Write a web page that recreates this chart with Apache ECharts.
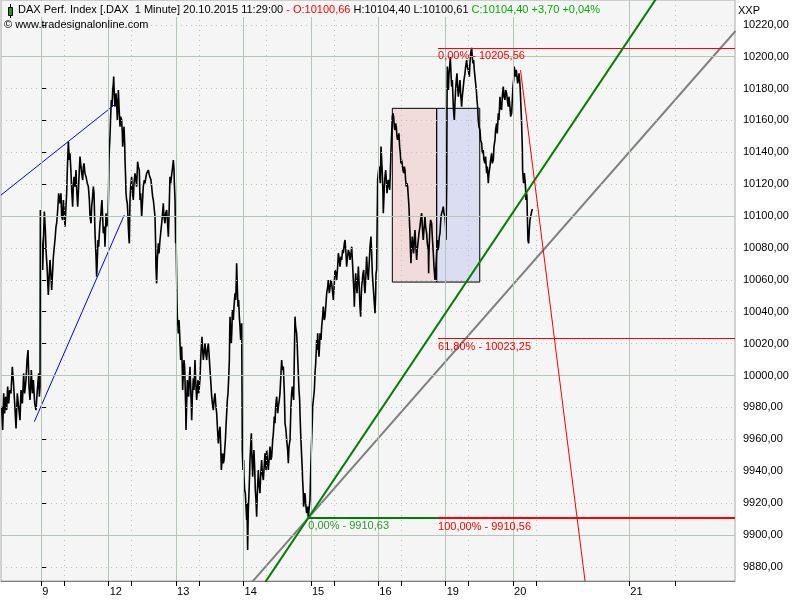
<!DOCTYPE html>
<html><head><meta charset="utf-8">
<script src="https://cdn.jsdelivr.net/npm/echarts@6/dist/echarts.min.js"></script>
<style>html,body{margin:0;padding:0;background:#fff}#c{width:800px;height:600px}</style>
</head><body><div id="c"></div><script>
// x = trading-day position (0 = start of 9 Oct session, 1 = 12 Oct, ...), y = DAX price
const dax1m = [
[-0.588,9980.4],[-0.573,9965.8],[-0.558,9988.8],[-0.544,9976.2],[-0.529,9986.7],[-0.514,9978.3],[-0.499,9993.0],[-0.484,9982.5],[-0.469,9990.9],[-0.450,9988.8],[-0.430,10005.5],[-0.415,9997.1],[-0.395,9982.5],[-0.375,9966.8],[-0.356,9988.8],[-0.336,9980.4],[-0.316,9972.0],[-0.301,9990.9],[-0.281,9982.5],[-0.262,10001.3],[-0.247,9988.8],[-0.227,9997.1],[-0.212,10009.7],[-0.197,10016.0],[-0.183,9993.0],[-0.168,9984.6],[-0.148,10003.4],[-0.133,9988.8],[-0.118,9997.1],[-0.098,9982.5],[-0.079,9978.3],[-0.059,9990.9],[-0.039,10001.3],[-0.029,9986.7],[-0.019,9993.0],
[-0.014,10103.8],[-0.004,10089.2],[0.005,10083.9],[0.020,10066.2],[0.035,10089.2],[0.045,10102.8],[0.060,10091.3],[0.070,10078.7],[0.085,10068.3],[0.104,10050.5],[0.119,10064.1],[0.129,10072.5],[0.144,10062.0],[0.154,10053.6],[0.169,10066.2],[0.179,10074.5],[0.193,10080.8],[0.203,10085.0],[0.218,10093.4],[0.228,10095.5],[0.243,10103.8],[0.258,10114.3],[0.277,10108.0],[0.292,10114.3],[0.302,10099.6],[0.317,10097.5],[0.327,10110.1],[0.342,10101.7],[0.352,10093.4],[0.366,10105.9],[0.376,10114.3],[0.386,10128.9],[0.401,10146.7],[0.416,10135.2],[0.426,10139.4],[0.441,10126.8],[0.451,10116.4],[0.465,10105.9],[0.475,10118.5],[0.485,10124.7],[0.500,10118.5],[0.515,10128.9],[0.525,10116.4],[0.540,10105.9],[0.549,10114.3],[0.564,10128.9],[0.574,10137.3],[0.584,10138.3],[0.599,10126.8],[0.614,10122.6],[0.624,10131.0],[0.634,10133.1],[0.648,10126.8],[0.663,10124.7],[0.683,10120.5],[0.698,10118.5],[0.713,10110.1],[0.723,10099.6],[0.738,10095.5],[0.747,10105.9],[0.757,10110.1],[0.772,10118.5],[0.782,10114.3],[0.797,10089.2],[0.812,10074.5],[0.821,10062.0],[0.831,10072.5],[0.841,10085.0],[0.851,10080.8],[0.861,10089.2],[0.871,10095.5],[0.881,10099.6],[0.891,10105.9],[0.900,10110.1],[0.910,10099.6],[0.920,10089.2],[0.935,10093.4],[0.945,10080.8],[0.955,10093.4],[0.960,10101.7],[0.970,10093.4],[0.980,10095.5],[0.989,10097.5],
[0.999,10118.5],[1.004,10135.2],[1.009,10141.5],[1.019,10149.8],[1.029,10162.4],[1.039,10172.8],[1.049,10168.6],[1.059,10179.1],[1.069,10183.3],[1.074,10187.5],[1.084,10174.9],[1.093,10168.6],[1.103,10172.8],[1.108,10177.0],[1.118,10170.7],[1.128,10160.3],[1.138,10170.7],[1.143,10179.1],[1.153,10168.6],[1.168,10156.1],[1.177,10162.4],[1.192,10160.3],[1.202,10151.9],[1.207,10143.5],[1.217,10149.8],[1.227,10156.1],[1.237,10145.6],[1.242,10135.2],[1.252,10122.6],[1.257,10114.3],[1.266,10110.1],[1.276,10108.0],[1.286,10099.6],[1.291,10093.4],[1.301,10085.0],[1.306,10082.9],[1.311,10097.5],[1.316,10110.1],[1.326,10118.5],[1.340,10124.7],[1.350,10116.4],[1.365,10110.1],[1.375,10120.5],[1.390,10126.8],[1.404,10122.6],[1.414,10118.5],[1.429,10134.1],[1.439,10131.0],[1.454,10128.9],[1.464,10110.1],[1.474,10114.3],[1.489,10099.6],[1.503,10110.1],[1.513,10118.5],[1.528,10122.6],[1.538,10120.5],[1.553,10124.7],[1.563,10126.8],[1.578,10125.8],[1.588,10128.9],[1.602,10125.8],[1.612,10126.8],[1.627,10122.6],[1.637,10118.5],[1.652,10112.2],[1.662,10110.1],[1.677,10103.8],[1.687,10099.6],[1.697,10080.8],[1.701,10068.3],[1.711,10057.8],[1.721,10072.5],[1.736,10082.9],[1.746,10076.6],[1.761,10085.0],[1.776,10091.3],[1.786,10095.5],[1.795,10099.6],[1.810,10108.0],[1.820,10099.6],[1.835,10095.5],[1.845,10101.7],[1.860,10103.8],[1.870,10097.5],[1.885,10087.1],[1.894,10099.6],[1.909,10124.7],[1.919,10120.5],[1.934,10125.8],[1.949,10131.0],[1.959,10135.2],[1.969,10128.9],[1.974,10120.5],[1.984,10110.1],[1.993,10082.9],
[1.998,10093.4],[2.003,10076.6],[2.008,10062.0],[2.013,10047.4],[2.018,10036.9],[2.028,10030.6],[2.033,10026.4],[2.043,10034.8],[2.048,10030.6],[2.058,10020.1],[2.068,10009.7],[2.077,10013.9],[2.082,10018.1],[2.092,10003.4],[2.097,9990.9],[2.107,10001.3],[2.117,10009.7],[2.127,10005.5],[2.132,9997.1],[2.142,9980.4],[2.147,9965.8],[2.157,9982.5],[2.167,9997.1],[2.177,9990.9],[2.186,9986.7],[2.196,9998.2],[2.206,10005.5],[2.216,9993.0],[2.226,9980.4],[2.231,9972.0],[2.241,9986.7],[2.256,9998.2],[2.266,9990.9],[2.280,10009.7],[2.290,9997.1],[2.305,9984.6],[2.315,9990.9],[2.325,9997.1],[2.335,9988.8],[2.345,9993.0],[2.355,9998.2],[2.364,10009.7],[2.374,10018.1],[2.384,10024.3],[2.394,10016.0],[2.404,10009.7],[2.414,10013.9],[2.429,10020.1],[2.439,10013.9],[2.454,10009.7],[2.463,10016.0],[2.478,10020.1],[2.488,10013.9],[2.503,10003.4],[2.513,9997.1],[2.528,9986.7],[2.538,9982.5],[2.553,9978.3],[2.563,9984.6],[2.577,9988.8],[2.587,9982.5],[2.602,9976.2],[2.612,9967.9],[2.627,9957.4],[2.637,9963.7],[2.652,9967.9],[2.662,9955.3],[2.671,9940.7],[2.681,9947.0],[2.691,9951.1],[2.701,9944.9],[2.711,9947.0],[2.721,9953.2],[2.731,9959.5],[2.740,9967.9],[2.750,9976.2],[2.760,9984.6],[2.770,9988.8],[2.780,9998.2],[2.790,10009.7],[2.795,10026.4],[2.800,10036.9],[2.810,10026.4],[2.819,10020.1],[2.829,10030.6],[2.834,10041.1],[2.844,10036.9],[2.849,10034.8],[2.859,10043.2],[2.874,10051.5],[2.884,10047.4],[2.893,10059.9],[2.898,10070.4],[2.908,10055.7],[2.918,10043.2],[2.928,10047.4],[2.938,10036.9],[2.948,10030.6],[2.958,10022.3],[2.968,10030.6],[2.973,10032.7],
[2.982,9953.2],[2.992,9940.7],[3.002,9947.0],[3.007,9936.5],[3.017,9928.2],[3.027,9926.1],[3.037,9917.7],[3.047,9909.3],[3.052,9919.8],[3.061,9890.5],[3.071,9915.6],[3.081,9926.1],[3.091,9938.6],[3.096,9947.0],[3.106,9955.3],[3.116,9963.7],[3.126,9947.0],[3.136,9936.5],[3.145,9947.0],[3.155,9953.2],[3.165,9942.8],[3.175,9928.2],[3.185,9921.9],[3.195,9911.4],[3.205,9926.1],[3.220,9940.7],[3.229,9932.3],[3.244,9926.1],[3.254,9936.5],[3.269,9947.0],[3.279,9938.6],[3.294,9934.4],[3.319,9951.2],[3.334,9940.7],[3.344,9953.3],[3.358,9944.9],[3.368,9940.7],[3.383,9949.1],[3.393,9955.4],[3.408,9947.0],[3.418,9949.1],[3.433,9959.6],[3.443,9963.7],[3.457,9974.2],[3.467,9970.0],[3.477,9980.5],[3.492,9986.7],[3.507,9976.3],[3.517,9980.5],[3.531,9984.6],[3.541,9988.8],[3.556,10001.4],[3.566,10009.7],[3.576,10003.5],[3.591,10005.6],[3.606,9988.8],[3.616,9970.0],[3.630,9965.8],[3.640,9959.6],[3.655,9953.3],[3.665,9944.9],[3.675,9955.4],[3.690,9959.6],[3.704,9980.5],[3.714,9988.8],[3.724,9993.0],[3.734,9988.8],[3.744,9984.6],[3.754,10011.8],[3.764,10036.9],[3.773,10030.7],[3.788,10026.5],[3.798,10018.1],[3.803,10011.8],[3.813,10001.4],[3.823,9990.9],[3.833,9984.6],[3.838,9976.3],[3.848,9963.7],[3.863,9949.1],[3.872,9940.7],[3.877,9934.5],[3.887,9926.1],[3.892,9917.7],[3.902,9924.0],[3.912,9926.1],[3.922,9919.8],[3.937,9913.6],[3.951,9917.7],[3.961,9910.63],[3.976,9917.7],[3.986,9921.9],
[3.996,9938.6],[4.006,9953.3],[4.011,9959.6],[4.021,9972.1],[4.026,9980.5],[4.036,9984.6],[4.051,9990.9],[4.061,10001.4],[4.071,10007.7],[4.080,10016.0],[4.085,10022.3],[4.095,10016.0],[4.100,10026.5],[4.110,10018.1],[4.120,10011.8],[4.130,10020.2],[4.135,10026.5],[4.150,10022.3],[4.160,10030.7],[4.174,10036.9],[4.184,10043.2],[4.199,10034.8],[4.209,10036.9],[4.224,10045.3],[4.234,10051.6],[4.249,10055.8],[4.258,10059.9],[4.273,10051.6],[4.283,10051.6],[4.298,10059.9],[4.308,10057.8],[4.323,10051.6],[4.333,10047.4],[4.347,10057.8],[4.357,10066.2],[4.372,10064.1],[4.382,10059.9],[4.397,10068.3],[4.407,10076.7],[4.422,10072.5],[4.432,10068.3],[4.446,10074.6],[4.456,10072.5],[4.471,10078.8],[4.481,10076.7],[4.496,10082.9],[4.506,10085.0],[4.520,10076.7],[4.530,10068.3],[4.545,10074.6],[4.555,10078.8],[4.570,10076.7],[4.580,10072.5],[4.595,10076.7],[4.605,10080.8],[4.620,10068.3],[4.629,10059.9],[4.639,10051.6],[4.644,10043.2],[4.654,10055.8],[4.664,10064.1],[4.674,10057.8],[4.684,10051.6],[4.694,10059.9],[4.704,10068.3],[4.713,10059.9],[4.728,10043.2],[4.738,10036.9],[4.743,10045.3],[4.753,10055.8],[4.763,10059.9],[4.773,10064.1],[4.783,10066.2],[4.793,10055.8],[4.802,10051.6],[4.812,10059.9],[4.827,10074.6],[4.837,10066.2],[4.852,10059.9],[4.862,10068.3],[4.877,10080.8],[4.886,10085.0],[4.891,10087.1],[4.901,10076.7],[4.911,10064.1],[4.921,10057.8],[4.931,10051.6],[4.941,10045.3],[4.951,10039.0],[4.961,10051.6],[4.966,10064.1],[4.975,10066.2],[4.980,10066.2],
[4.990,10122.7],[5.000,10126.9],[5.010,10131.0],[5.020,10124.8],[5.030,10120.6],[5.040,10143.6],[5.050,10135.2],[5.059,10126.9],[5.069,10114.3],[5.074,10101.8],[5.084,10112.2],[5.089,10118.5],[5.099,10124.8],[5.109,10128.9],[5.119,10122.7],[5.129,10114.3],[5.138,10120.6],[5.148,10122.7],[5.158,10118.5],[5.168,10116.4],[5.178,10126.9],[5.188,10141.5],[5.198,10151.9],[5.208,10162.4],[5.217,10164.5],[5.227,10162.4],[5.237,10156.1],[5.247,10154.0],[5.257,10158.2],[5.267,10156.1],[5.277,10149.9],[5.287,10147.8],[5.297,10149.9],[5.306,10151.9],[5.316,10143.6],[5.326,10139.4],[5.336,10133.1],[5.346,10135.2],[5.356,10134.2],[5.366,10128.9],[5.376,10126.9],[5.386,10131.0],[5.396,10128.9],[5.405,10122.7],[5.415,10118.5],[5.425,10120.6],[5.435,10118.5],[5.445,10112.2],[5.455,10105.9],[5.465,10093.4],[5.470,10089.2],[5.479,10076.6],[5.484,10070.4],[5.494,10080.8],[5.504,10087.1],[5.514,10080.8],[5.524,10076.6],[5.534,10085.0],[5.544,10091.3],[5.554,10082.9],[5.569,10072.5],[5.578,10078.7],[5.593,10085.0],[5.603,10089.2],[5.618,10093.4],[5.628,10097.6],[5.643,10101.8],[5.653,10093.4],[5.667,10085.0],[5.677,10091.3],[5.692,10099.7],[5.702,10093.4],[5.717,10089.2],[5.727,10082.9],[5.742,10078.7],[5.747,10064.1],[5.751,10076.6],[5.766,10093.4],[5.776,10097.6],[5.791,10095.5],[5.801,10087.1],[5.816,10076.6],[5.826,10068.3],[5.841,10059.9],[5.850,10064.1],[5.860,10072.5],[5.875,10085.0],[5.885,10078.7],[5.895,10080.8],[5.905,10087.1],[5.915,10089.2],[5.930,10099.7],[5.940,10101.8],[5.954,10103.8],[5.964,10105.9],[5.974,10101.8],[5.989,10099.7],[5.999,10093.4],[6.004,10085.0],
[6.014,10118.5],[6.019,10168.7],[6.024,10193.8],[6.034,10181.2],[6.039,10179.1],[6.049,10189.6],[6.059,10193.8],[6.068,10200.0],[6.078,10189.6],[6.088,10181.2],[6.098,10185.4],[6.113,10168.7],[6.123,10162.4],[6.128,10160.3],[6.137,10170.8],[6.147,10179.1],[6.157,10185.4],[6.167,10189.6],[6.177,10181.2],[6.187,10174.9],[6.197,10179.1],[6.212,10185.4],[6.221,10177.0],[6.236,10168.7],[6.246,10174.9],[6.261,10181.2],[6.271,10185.4],[6.286,10189.6],[6.296,10193.8],[6.310,10197.9],[6.320,10193.8],[6.335,10191.7],[6.350,10187.5],[6.360,10195.8],[6.370,10202.1],[6.385,10205.56],[6.394,10200.0],[6.404,10195.8],[6.414,10197.9],[6.424,10191.7],[6.434,10187.5],[6.444,10183.3],[6.454,10179.1],[6.464,10172.9],[6.473,10168.7],[6.483,10160.3],[6.493,10156.1],[6.508,10154.0],[6.518,10147.8],[6.533,10145.7],[6.543,10139.4],[6.557,10141.5],[6.567,10135.2],[6.582,10133.1],[6.592,10137.3],[6.607,10126.9],[6.617,10131.0],[6.632,10120.6],[6.642,10126.9],[6.656,10131.0],[6.666,10135.2],[6.681,10139.4],[6.691,10133.1],[6.706,10135.2],[6.716,10143.6],[6.731,10147.8],[6.740,10154.0],[6.755,10158.2],[6.765,10151.9],[6.780,10164.5],[6.790,10160.3],[6.805,10174.9],[6.815,10168.7],[6.829,10166.6],[6.839,10174.9],[6.854,10181.2],[6.864,10174.9],[6.879,10172.9],[6.889,10179.1],[6.904,10177.0],[6.914,10172.9],[6.928,10168.7],[6.938,10174.9],[6.953,10168.7],[6.963,10162.4],[6.978,10164.5],[6.988,10172.9],[6.998,10181.2],
[7.008,10185.4],[7.017,10193.8],[7.027,10189.6],[7.037,10187.5],[7.047,10191.7],[7.057,10187.5],[7.067,10183.3],[7.077,10185.4],[7.087,10189.6],[7.097,10185.4],[7.106,10179.1],[7.116,10168.7],[7.126,10158.2],[7.136,10143.6],[7.141,10128.9],[7.151,10122.7],[7.156,10120.6],[7.166,10126.9],[7.176,10122.7],[7.186,10116.4],[7.190,10110.1],[7.200,10114.3],[7.205,10112.2],[7.210,10101.8],[7.215,10093.4],[7.220,10085.0],[7.230,10082.9],[7.240,10091.3],[7.250,10097.6],[7.260,10099.7],[7.270,10101.8],[7.280,10103.8],[7.289,10104.4]
];

const dayPos = [0, 1, 2, 3, 4, 5, 6, 7, 8.724];
const dayLabels = ['9', '12', '13', '14', '15', '16', '19', '20', '21'];
const noonPos = [0.341, 1.341, 2.341, 3.341, 4.341, 5.341, 6.341, 7.350, 9.407];
const noonTickPos = [0.341, 1.341, 2.341, 4.341, 5.341, 6.341, 7.350, 9.407];
const priceTicks = [9880, 9900, 9920, 9940, 9960, 9980, 10000, 10020, 10040, 10060, 10080, 10100, 10120, 10140, 10160, 10180, 10200, 10220];
const majorPrices = [9900, 10000, 10100, 10200];

const blueUpper = [[-0.6, 10113.1], [1.093, 10170.1]];
const blueLower = [[-0.104, 9971.0], [1.231, 10100.7]];
const greenTrend = [[3.2, 9862.6], [9.3, 10247.6]];
const grayTrend = [[3.0, 9864.3], [10.3, 10216.1]];
const redTrend = [[7.110, 10191.6], [8.141, 9846.3]];

const fibHigh = 10205.56, fib618 = 10023.25, fibLow = 9910.56, swingLow = 9910.63;
const fibStartX = 5.886, swingLowX = 3.961;
const boxTop = 10167.6, boxBottom = 10058.6;
const redBoxX = [5.208, 5.866], blueBoxX = [5.866, 6.505];

const X_MIN = -0.598, X_MAX = 10.292, Y_MIN = 9871.07, Y_MAX = 10235.56;
const FONT = 'Liberation Sans, Arial, sans-serif';
const GRID_C = '#b4c6b4';

const chart = echarts.init(document.getElementById('c'), null, {renderer: 'canvas'});

function hSeg(x1, x2, y, color, width, text, tColor) {
  return [{coord: [x1, y], lineStyle: {color: color, width: width, type: 'solid'},
    label: {show: !!text, formatter: text || '', position: 'insideStartBottom', color: tColor, fontSize: 11, fontFamily: FONT, distance: [0, 3]}},
    {coord: [x2, y]}];
}

const gridLines = [];
dayPos.forEach(v => gridLines.push({xAxis: v, lineStyle: {color: GRID_C, type: 'solid', width: 1}}));
noonPos.forEach(v => gridLines.push({xAxis: v, lineStyle: {color: GRID_C, type: [1, 4], width: 1}}));
priceTicks.forEach(v => gridLines.push({yAxis: v, lineStyle: {color: GRID_C, type: majorPrices.includes(v) ? 'solid' : [1, 4], width: 1}}));

const option = {
  animation: false,
  backgroundColor: '#ffffff',
  title: [
    {left: 16, top: 1, padding: [3, 4, 2, 2], backgroundColor: '#f5f5f5',
     text: '{b|DAX Perf. Index [.DAX  1 Minute] 20.10.2015 11:29:00 }{r|- O:10100,66 }{b|H:10104,40 L:10100,61 }{g|C:10104,40 +3,70 +0,04%}',
     textStyle: {rich: {
       b: {color: '#000', fontSize: 11, fontFamily: FONT, fontWeight: 'normal'},
       r: {color: '#ff0000', fontSize: 11, fontFamily: FONT, fontWeight: 'normal'},
       g: {color: '#00b000', fontSize: 11, fontFamily: FONT, fontWeight: 'normal'}}}},
    {left: 4, top: 19, padding: 0, text: '© www.tradesignalonline.com',
     textStyle: {color: '#000', fontSize: 11, fontFamily: FONT, fontWeight: 'normal'}},
    {left: 738, top: 5, padding: 0, text: 'XXP',
     textStyle: {color: '#000', fontSize: 11, fontFamily: FONT, fontWeight: 'normal'}}
  ],
  graphic: [
    {type: 'line', z: 100, shape: {x1: 10.5, y1: 4, x2: 10.5, y2: 18}, style: {stroke: '#000', lineWidth: 1}},
    {type: 'rect', z: 101, shape: {x: 8.5, y: 7.5, width: 4, height: 8}, style: {fill: '#1a9a1a', stroke: '#000', lineWidth: 1}}
  ],
  grid: {left: 1, right: 65, top: 0, bottom: 19, show: true, backgroundColor: '#f5f5f5', borderColor: '#a8a8a8', borderWidth: 1},
  xAxis: {
    type: 'value', min: X_MIN, max: X_MAX, position: 'bottom',
    axisLine: {show: true, lineStyle: {color: '#808080', width: 1}},
    axisTick: {show: true, customValues: dayPos.concat(noonTickPos), length: 5, lineStyle: {color: '#000'}},
    axisLabel: {show: true, customValues: dayPos, margin: 5, align: 'left', padding: [0, 0, 0, 1],
      color: '#000', fontSize: 11, fontFamily: FONT,
      formatter: v => { const i = dayPos.findIndex(p => Math.abs(p - v) < 1e-6); return i >= 0 ? dayLabels[i] : ''; }},
    splitLine: {show: false}
  },
  yAxis: {
    type: 'value', min: Y_MIN, max: Y_MAX, position: 'right', scale: true,
    axisLine: {show: true, lineStyle: {color: '#808080', width: 1}},
    axisTick: {show: true, customValues: priceTicks, length: 5, lineStyle: {color: '#000'}},
    axisLabel: {show: true, customValues: priceTicks, margin: 8, color: '#000', fontSize: 11, fontFamily: FONT,
      formatter: v => v.toFixed(2).replace('.', ',')},
    splitLine: {show: false}
  },
  series: [
    {type: 'line', name: 'grid', data: [], z: 1, silent: true,
     markLine: {silent: true, symbol: ['none', 'none'], label: {show: false}, data: gridLines}},
    {type: 'line', name: 'boxes', data: [], z: 2, silent: true,
     markArea: {silent: true, label: {show: false}, data: [
       [{coord: [redBoxX[0], boxTop], itemStyle: {color: 'rgba(232,140,140,0.24)', borderColor: '#000', borderWidth: 1}}, {coord: [redBoxX[1], boxBottom]}],
       [{coord: [blueBoxX[0], boxTop], itemStyle: {color: 'rgba(140,150,235,0.24)', borderColor: '#000', borderWidth: 1}}, {coord: [blueBoxX[1], boxBottom]}]
     ]}},
    {type: 'line', name: 'DAX', data: dax1m, z: 3, showSymbol: false, symbol: 'none', clip: true,
     lineStyle: {color: '#000', width: 1.6}},
    {type: 'line', name: 'blueUpper', data: blueUpper, z: 4, symbol: 'none', clip: true, lineStyle: {color: '#0000ff', width: 1}},
    {type: 'line', name: 'blueLower', data: blueLower, z: 4, symbol: 'none', clip: true, lineStyle: {color: '#0000ff', width: 1}},
    {type: 'line', name: 'grayTrend', data: grayTrend, z: 4, symbol: 'none', clip: true, lineStyle: {color: '#808080', width: 2}},
    {type: 'line', name: 'greenTrend', data: greenTrend, z: 5, symbol: 'none', clip: true, lineStyle: {color: '#008000', width: 2}},
    {type: 'line', name: 'redTrend', data: redTrend, z: 5, symbol: 'none', clip: true, lineStyle: {color: '#ff0000', width: 1}},
    {type: 'line', name: 'fib', data: [], z: 6, silent: true,
     markLine: {silent: true, symbol: ['none', 'none'], data: [
       hSeg(swingLowX, X_MAX, swingLow, '#008000', 2, '0,00% - 9910,63', '#2a9a2a'),
       hSeg(fibStartX, X_MAX, fibLow, '#ff0000', 2, '100,00% - 9910,56', '#ff0000'),
       hSeg(fibStartX, X_MAX, fib618, '#ff0000', 1, '61,80% - 10023,25', '#ff0000'),
       hSeg(fibStartX, X_MAX, fibHigh, '#ff0000', 1, '0,00% - 10205,56', '#ff0000')
     ]}}
  ]
};
chart.setOption(option);
</script></body></html>
